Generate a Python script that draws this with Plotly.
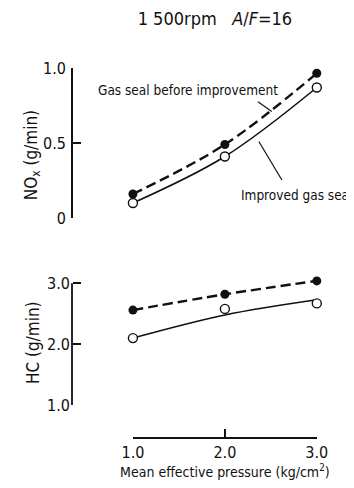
import plotly.graph_objects as go

# mean effective pressure (kg/cm2)
pressure = [1.0, 2.0, 3.0]

# NOx (g/min)
nox_before = [0.16, 0.49, 0.965]
nox_improved = [0.10, 0.41, 0.87]

# HC (g/min)
hc_before = [2.56, 2.82, 3.04]
hc_improved = [2.10, 2.58, 2.67]
hc_improved_fit = [2.10, 2.48, 2.73]

font = "Liberation Sans Narrow, DejaVu Sans Condensed, Arial Narrow, sans-serif"
ink = "#111"

fig = go.Figure()

# top panel: NOx
fig.add_trace(go.Scatter(
    x=pressure, y=nox_before, yaxis="y",
    mode="lines+markers", line=dict(color=ink, width=2.4, dash="10px,5px", shape="spline"),
    marker=dict(size=9, color=ink), cliponaxis=False,
))
fig.add_trace(go.Scatter(
    x=pressure, y=nox_improved, yaxis="y",
    mode="lines+markers", line=dict(color=ink, width=1.6, shape="spline"),
    marker=dict(size=9, color="white", line=dict(color=ink, width=1.4)), cliponaxis=False,
))

# bottom panel: HC
fig.add_trace(go.Scatter(
    x=pressure, y=hc_before, yaxis="y2",
    mode="lines+markers", line=dict(color=ink, width=2.4, dash="10px,5px", shape="spline"),
    marker=dict(size=9, color=ink), cliponaxis=False,
))
fig.add_trace(go.Scatter(
    x=pressure, y=hc_improved_fit, yaxis="y2",
    mode="lines", line=dict(color=ink, width=1.6, shape="spline"),
))
fig.add_trace(go.Scatter(
    x=pressure, y=hc_improved, yaxis="y2",
    mode="markers",
    marker=dict(size=9, color="white", line=dict(color=ink, width=1.4)), cliponaxis=False,
))

axis_common = dict(
    ticks="inside", ticklen=8, tickwidth=1.5, tickcolor=ink,
    showgrid=False, zeroline=False, automargin=False,
    tickfont=dict(size=16, color=ink, family=font),
)

# the page body adds an 8px offset, so the figure is a bit smaller than the window
fig.update_layout(
    width=346, height=480,
    margin=dict(l=64, r=10, t=60, b=50),
    paper_bgcolor="white", plot_bgcolor="white",
    showlegend=False,
    font=dict(family=font, color=ink),
    title=dict(
        text="1 500rpm&nbsp;&nbsp;&nbsp;<i>A</i>/<i>F</i>=16",
        font=dict(size=18, family=font, color=ink),
        x=0.598, xanchor="center", y=0.977, yanchor="middle",
    ),
    xaxis=dict(
        range=[1, 3], domain=[0.224, 0.9], anchor="free", position=0,
        showline=True, linecolor=ink, linewidth=1.8,
        tickvals=[1, 2, 3], ticktext=["1.0", "2.0", "3.0"],
        title=dict(text="Mean effective pressure (kg/cm<sup>2</sup>)",
                   font=dict(size=14, family=font, color=ink), standoff=4),
        **axis_common,
    ),
    yaxis=dict(
        range=[0, 1], domain=[0.5946, 1.0], anchor="free", position=0,
        showline=True, linecolor=ink, linewidth=1.8, ticklabelstandoff=2,
        tickvals=[0, 0.5, 1.0], ticktext=["0", "0.5", "1.0"],
        **axis_common,
    ),
    # HC axis: range goes a bit past 3.0 so the top point is not clipped,
    # the axis line itself is drawn only from 1.0 to 3.0 (shape below)
    yaxis2=dict(
        range=[1, 3.2], domain=[0.0892, 0.4509], anchor="free", position=0,
        showline=False, ticklabelstandoff=2,
        tickvals=[1, 2, 3], ticktext=["1.0", "2.0", "3.0"],
        **axis_common,
    ),
)

fig.add_shape(type="line", xref="paper", yref="y2", x0=0, x1=0, y0=1, y1=3,
              line=dict(color=ink, width=1.8))

# axis titles
fig.add_annotation(
    text="NO<sub>x</sub> (g/min)", xref="paper", yref="paper", x=-0.145, y=0.763,
    xanchor="center", yanchor="middle",
    textangle=-90, showarrow=False, font=dict(size=17, family=font, color=ink),
)
fig.add_annotation(
    text="HC (g/min)", xref="paper", yref="paper", x=-0.145, y=0.258,
    xanchor="center", yanchor="middle",
    textangle=-90, showarrow=False, font=dict(size=17, family=font, color=ink),
)

# curve labels and their pointer lines
fig.add_annotation(
    text="Gas seal before improvement", xref="x", yref="y", x=1.6, y=0.853,
    showarrow=False, font=dict(size=13.5, family=font, color=ink),
)
fig.add_shape(type="line", xref="x", yref="y", x0=2.36, y0=0.775, x1=2.51, y1=0.71,
              line=dict(color=ink, width=1.2))
fig.add_annotation(
    text="Improved gas seal", xref="x", yref="y", x=2.78, y=0.153,
    showarrow=False, font=dict(size=13.5, family=font, color=ink),
)
fig.add_shape(type="line", xref="x", yref="y", x0=2.62, y0=0.253, x1=2.37, y1=0.51,
              line=dict(color=ink, width=1.2))

fig.write_html("out.html")
